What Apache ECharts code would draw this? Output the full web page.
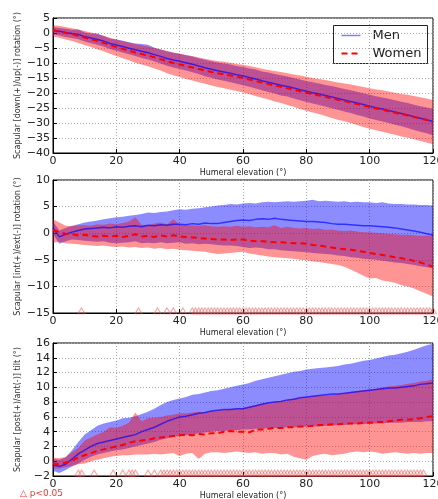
<!DOCTYPE html>
<html>
<head>
<meta charset="utf-8">
<script src="https://cdn.jsdelivr.net/npm/echarts@6/dist/echarts.min.js"></script>
<style>
  html, body { margin: 0; padding: 0; background: #fff; }
  #chart { width: 438px; height: 499px; }
</style>
</head>
<body>
<div id="chart"></div>
<script>
// Humeral elevation (degrees), sampled every 2 degrees
const elev = [0,2,4,6,8,10,12,14,16,18,20,22,24,26,28,30,32,34,36,38,40,42,44,46,48,50,52,54,56,58,
  60,62,64,66,68,70,72,74,76,78,80,82,84,86,88,90,92,94,96,98,100,102,104,106,108,110,112,114,116,118,120];

// Panel 1: scapular downward(+)/upward(-) rotation
const rotMenMean = [1.0,0.6,0.2,-0.2,-0.5,-1.2,-1.7,-2.2,-2.7,-3.5,-4.0,-4.5,-5.1,-5.6,-6.1,-6.6,-7.2,-7.8,-8.5,-9.0,
  -9.4,-9.9,-10.4,-11.0,-11.6,-12.1,-12.6,-13.0,-13.4,-13.9,-14.3,-14.8,-15.3,-15.9,-16.4,-16.9,-17.4,-17.8,-18.3,-18.9,
  -19.4,-19.9,-20.3,-20.8,-21.3,-21.8,-22.3,-22.8,-23.3,-23.8,-24.4,-24.9,-25.3,-25.8,-26.3,-26.8,-27.3,-27.9,-28.4,-28.9,-29.5];
const rotMenHi = [2.0,1.7,1.4,1.1,1.2,0.2,-0.2,-0.2,-1.0,-1.8,-2.2,-2.6,-3.1,-3.5,-3.7,-3.9,-4.9,-5.5,-6.1,-6.6,
  -6.9,-7.4,-7.8,-8.4,-8.9,-9.4,-9.8,-10.2,-10.5,-11.0,-11.3,-11.8,-12.2,-12.8,-13.2,-13.7,-14.1,-14.5,-15.0,-15.5,
  -16.0,-16.4,-16.8,-17.3,-17.7,-18.2,-18.7,-19.1,-19.6,-20.1,-20.6,-21.1,-21.5,-21.9,-22.4,-22.9,-23.3,-23.9,-24.4,-24.8,-25.3];
const rotMenLo = [-0.4,-0.8,-1.3,-1.7,-2.1,-2.8,-3.4,-3.9,-4.5,-5.3,-5.9,-6.5,-7.1,-7.7,-8.3,-8.8,-9.5,-10.2,-10.9,-11.5,
  -12.0,-12.5,-13.1,-13.7,-14.4,-14.9,-15.5,-15.9,-16.4,-16.9,-17.4,-17.9,-18.5,-19.1,-19.7,-20.2,-20.8,-21.2,-21.8,-22.4,
  -23.0,-23.5,-24.0,-24.5,-25.1,-25.6,-26.2,-26.7,-27.3,-27.8,-28.5,-29.0,-29.5,-30.0,-30.6,-31.1,-31.7,-32.3,-32.9,-33.4,-34.1];
const rotWomenMean = [0.8,0.5,0.0,-0.4,-0.9,-1.5,-2.1,-2.7,-3.3,-4.0,-4.7,-5.3,-5.9,-6.5,-7.0,-7.5,-8.1,-8.7,-9.4,-10.0,
  -10.5,-11.0,-11.5,-12.0,-12.5,-13.0,-13.4,-13.8,-14.2,-14.6,-15.0,-15.5,-16.0,-16.5,-17.0,-17.5,-17.9,-18.4,-18.9,-19.4,
  -19.9,-20.4,-20.8,-21.3,-21.8,-22.3,-22.7,-23.2,-23.7,-24.2,-24.7,-25.2,-25.6,-26.1,-26.6,-27.1,-27.5,-28.0,-28.5,-29.0,-29.6];
const rotWomenHi = [2.6,2.4,2.0,1.6,1.2,0.7,0.2,-0.4,-0.9,-1.6,-2.2,-2.7,-3.2,-3.7,-4.1,-4.5,-5.0,-5.5,-6.0,-6.5,
  -6.9,-7.3,-7.7,-8.2,-8.6,-9.0,-9.3,-9.6,-9.9,-10.3,-10.6,-11.0,-11.4,-11.9,-12.3,-12.7,-13.0,-13.4,-13.8,-14.2,
  -14.6,-15.0,-15.3,-15.7,-16.1,-16.5,-16.8,-17.2,-17.6,-18.0,-18.4,-18.8,-19.1,-19.5,-19.9,-20.3,-20.6,-21.0,-21.4,-21.8,-22.3];
const rotWomenLo = [-1.2,-1.6,-2.2,-2.7,-3.3,-4.0,-4.7,-5.4,-6.1,-6.9,-7.7,-8.4,-9.1,-9.9,-10.5,-11.1,-11.8,-12.5,-13.4,-14.1,
  -14.7,-15.3,-15.8,-16.4,-16.9,-17.5,-18.0,-18.4,-18.9,-19.3,-19.8,-20.4,-21.0,-21.6,-22.2,-22.8,-23.3,-24.0,-24.6,-25.3,
  -25.9,-26.5,-27.0,-27.7,-28.3,-28.9,-29.4,-30.0,-30.7,-31.3,-31.9,-32.4,-32.9,-33.4,-33.9,-34.5,-34.9,-35.4,-36.0,-36.5,-37.1];

// Panel 2: scapular internal(+)/external(-) rotation
const intMenMean = [1.0,-0.7,-0.2,0.2,0.5,0.8,0.9,1.0,1.1,1.0,1.2,1.1,1.3,1.4,1.2,1.5,1.4,1.6,1.5,1.7,
  1.7,1.6,1.8,1.7,1.9,1.8,1.8,2.0,2.2,2.4,2.5,2.4,2.6,2.7,2.6,2.8,2.6,2.5,2.4,2.3,
  2.2,2.2,2.1,2.0,1.8,1.7,1.7,1.6,1.5,1.4,1.4,1.3,1.2,1.1,1.0,0.8,0.6,0.4,0.2,-0.1,-0.4];
const intMenHi = [2.2,0.5,1.0,1.4,1.7,2.0,2.2,2.4,2.6,2.8,3.0,3.1,3.3,3.4,3.6,3.9,3.8,4.0,4.1,4.3,
  4.5,4.4,4.6,4.7,4.9,5.0,5.2,5.3,5.5,5.4,5.6,5.7,5.6,5.8,5.9,5.8,5.9,6.0,5.9,6.0,
  6.1,6.3,6.0,6.1,6.0,5.9,6.0,5.8,5.9,5.8,5.8,5.7,5.8,5.6,5.5,5.5,5.4,5.4,5.3,5.3,5.2];
const intMenLo = [-0.2,-2.0,-1.5,-1.2,-1.3,-1.4,-1.5,-1.6,-1.5,-1.8,-1.9,-1.8,-1.7,-1.5,-1.9,-1.8,-1.9,-1.7,-1.9,-1.8,
  -1.7,-2.0,-1.9,-2.1,-2.0,-2.1,-2.2,-2.3,-2.3,-2.4,-2.6,-2.8,-2.7,-2.8,-3.0,-3.0,-3.2,-3.3,-3.4,-3.5,
  -3.6,-3.7,-3.8,-3.9,-4.0,-4.2,-4.3,-4.5,-4.6,-4.8,-4.9,-5.0,-5.2,-5.3,-5.5,-5.6,-5.8,-6.0,-6.2,-6.4,-6.6];
const intWomenMean = [0.6,0.2,-0.1,-0.2,-0.4,-0.3,-0.5,-0.6,-0.5,-0.6,-0.5,-0.7,-0.5,-0.2,-0.6,-0.5,-0.7,-0.4,-0.6,-0.4,
  -0.6,-0.7,-0.8,-0.9,-1.0,-1.1,-1.2,-1.2,-1.3,-1.2,-1.2,-1.4,-1.5,-1.5,-1.6,-1.7,-1.7,-1.8,-1.9,-1.9,
  -2.0,-2.2,-2.3,-2.5,-2.7,-2.9,-3.0,-3.1,-3.3,-3.5,-3.7,-3.9,-4.1,-4.3,-4.5,-4.7,-4.9,-5.2,-5.5,-5.9,-6.3];
const intWomenHi = [2.6,2.0,1.4,1.3,1.5,1.5,1.4,1.7,1.6,1.8,1.7,1.9,2.2,3.0,1.6,1.5,1.8,2.0,1.7,2.6,
  1.6,1.5,1.5,1.4,1.5,1.3,1.2,1.3,1.2,1.4,1.2,1.3,1.1,1.2,1.1,1.5,1.0,1.2,1.0,0.9,
  1.0,0.8,0.9,0.6,0.7,0.5,0.4,0.5,0.3,0.2,0.2,0.1,0.0,-0.1,-0.2,-0.3,-0.3,-0.4,-0.5,-0.5,-0.6];
const intWomenLo = [-1.8,-1.6,-1.9,-2.0,-2.1,-2.2,-2.3,-2.4,-2.3,-2.5,-2.6,-2.5,-2.7,-2.6,-2.8,-2.7,-2.9,-2.8,-3.0,-2.9,
  -3.1,-3.2,-3.3,-3.4,-3.5,-3.7,-3.9,-3.8,-3.7,-3.6,-3.5,-3.8,-4.0,-4.2,-4.4,-4.5,-4.6,-4.7,-4.8,-5.0,
  -5.1,-5.3,-5.4,-5.6,-5.8,-6.0,-6.3,-6.8,-7.4,-8.0,-8.5,-8.4,-8.9,-9.1,-9.3,-9.8,-10.0,-10.4,-10.9,-11.4,-11.9];

// Panel 3: scapular posterior(+)/anterior(-) tilt
const tiltMenMean = [-0.5,-0.7,-0.4,0.3,1.0,1.5,2.0,2.4,2.6,2.8,3.0,3.2,3.4,3.6,4.0,4.3,4.6,5.0,5.4,5.7,
  6.0,6.1,6.3,6.5,6.6,6.8,6.9,7.0,7.0,7.1,7.1,7.3,7.5,7.7,7.9,8.0,8.1,8.3,8.4,8.6,
  8.7,8.8,8.9,9.0,9.1,9.1,9.2,9.3,9.4,9.5,9.6,9.7,9.8,9.9,9.9,10.0,10.1,10.2,10.4,10.5,10.6];
const tiltMenHi = [0.3,0.2,0.5,1.5,2.6,3.6,4.2,4.8,5.1,5.3,5.5,5.8,5.9,6.1,6.4,6.7,7.1,7.6,8.0,8.3,
  8.5,8.7,9.0,9.1,9.3,9.5,9.6,9.8,10.0,10.2,10.4,10.6,10.9,11.1,11.3,11.5,11.7,11.9,12.1,12.2,
  12.4,12.5,12.6,12.7,12.8,12.9,13.1,13.2,13.4,13.6,13.7,13.9,14.1,14.3,14.4,14.6,14.8,15.1,15.4,15.7,15.9];
const tiltMenLo = [-1.3,-1.6,-1.2,-0.7,-0.3,0.2,0.6,0.9,1.1,1.3,1.5,1.6,1.8,2.0,2.2,2.4,2.6,2.9,3.1,3.3,
  3.4,3.5,3.6,3.8,3.9,4.0,4.1,4.1,4.2,4.2,4.3,4.3,4.4,4.4,4.5,4.5,4.5,4.6,4.6,4.6,
  4.7,4.7,4.7,4.8,4.8,4.9,4.9,5.0,5.0,5.0,5.1,5.1,5.1,5.2,5.2,5.2,5.3,5.3,5.3,5.4,5.4];
const tiltWomenMean = [-0.3,-0.4,-0.2,0.1,0.5,0.8,1.1,1.4,1.6,1.8,2.0,2.2,2.5,2.7,2.8,2.9,3.1,3.2,3.3,3.4,
  3.5,3.6,3.5,3.7,3.6,3.8,3.8,4.0,4.1,4.0,4.0,3.9,4.3,4.3,4.4,4.5,4.5,4.6,4.6,4.7,
  4.7,4.8,4.9,4.9,5.0,5.0,5.1,5.1,5.1,5.2,5.2,5.3,5.3,5.4,5.5,5.6,5.6,5.7,5.8,6.0,6.1];
const tiltWomenHi = [0.5,0.4,0.6,1.2,1.8,2.8,3.2,3.6,4.0,4.6,4.5,4.8,5.2,6.6,5.4,5.8,5.9,6.0,6.2,6.3,
  6.5,6.5,6.6,6.7,6.6,6.8,6.9,7.0,7.1,7.1,7.2,7.4,7.6,7.8,7.9,8.0,8.2,8.3,8.5,8.6,
  8.7,8.8,8.9,8.9,9.0,9.1,9.2,9.4,9.5,9.6,9.7,9.8,10.0,10.1,10.2,10.3,10.5,10.6,10.8,10.9,11.1];
const tiltWomenLo = [-1.0,-1.0,-0.8,-0.6,-0.4,-0.3,0.0,0.2,0.4,0.6,0.7,0.8,0.8,0.9,0.9,0.9,1.0,0.9,1.0,1.1,
  0.7,1.0,1.1,0.3,1.0,1.2,1.2,1.1,1.2,1.3,1.2,1.1,1.2,1.0,1.1,1.1,0.9,1.0,0.6,0.4,
  0.2,0.7,0.9,1.0,0.8,0.9,1.0,1.2,1.3,1.2,1.3,1.2,1.0,1.1,1.2,1.1,1.0,1.1,1.0,1.1,1.1];

// Elevations where the men/women difference reaches p<0.05
const sigIntRot = [9,27,33,36,38,41,44,45,46,47,48,49,50,51,52,53,54,55,56,57,58,59,60,61,62,63,64,65,66,67,68,69,70,
  71,72,73,74,75,76,77,78,79,80,81,82,83,84,85,86,87,88,89,90,91,92,93,94,95,96,97,98,99,100,
  101,102,103,104,105,106,107,108,109,110,111,112,113,114,115,116,117,118,119,120];
const sigTilt = [8,9,13,19,22,24,25,26,30,32,34,35,36,37,38,39,40,41,42,43,44,45,46,47,48,49,50,51,52,53,54,55,56,57,58,59,60,
  61,62,63,64,65,66,67,68,69,70,71,72,73,74,75,76,77,78,79,80,81,82,83,84,85,86,87,88,89,90,
  91,92,93,94,95,96,97,98,99,100,101,102,103,104,105,106,107,108,109,110,111,112,113,114,115,116,117];

// y level at which the significance markers sit in panels 2 and 3
const sigLevelIntRot = -14.6;
const sigLevelTilt = -1.6;

const yTitles = [
  'Scapular [down(+)/up(-)] rotation (\u00b0)',
  'Scapular [int(+)/ext(-)] rotation (\u00b0)',
  'Scapular [post(+)/ant(-)] tilt (\u00b0)'
];
const xTitle = 'Humeral elevation (\u00b0)';
const legendNames = ['Men', 'Women'];

const MEN_BAND = 'rgba(0,0,255,0.45)';
const WOMEN_BAND = 'rgba(255,0,0,0.42)';
const FONT = 'DejaVu Sans';

const minus = v => String(v).replace('-', '\u2212');

const grids = [
  { left: 53, top: 18, width: 380, height: 135 },
  { left: 53, top: 180, width: 380, height: 133 },
  { left: 53, top: 343, width: 380, height: 133 }
].map(g => Object.assign(g, {
  show: true, borderColor: '#000', borderWidth: 1, backgroundColor: 'transparent',
  containLabel: false, outerBoundsMode: 'none'
}));

const yRanges = [[-40, 5, 5], [-15, 10, 5], [-2, 16, 2]];

const xAxes = grids.map((g, i) => ({
  type: 'value', gridIndex: i, min: 0, max: 120, interval: 20,
  name: xTitle, nameLocation: 'middle', nameGap: 16, nameMoveOverlap: false,
  nameTextStyle: { fontFamily: FONT, fontSize: 8, color: '#222' },
  axisLine: { show: true, onZero: false, lineStyle: { color: '#000', width: 1 } },
  axisTick: { show: true, inside: true, length: 4, lineStyle: { color: '#000' } },
  axisLabel: { fontFamily: FONT, fontSize: 11, color: '#222', margin: 3, formatter: minus, hideOverlap: false },
  splitLine: { show: true, lineStyle: { color: '#aaa', type: [1, 2], width: 1 } }
}));

const yAxes = grids.map((g, i) => ({
  type: 'value', gridIndex: i, min: yRanges[i][0], max: yRanges[i][1], interval: yRanges[i][2],
  name: yTitles[i], nameLocation: 'middle', nameGap: 31, nameRotate: 90, nameMoveOverlap: false,
  nameTextStyle: { fontFamily: FONT, fontSize: 8, color: '#333' },
  axisLine: { show: true, onZero: false, lineStyle: { color: '#000', width: 1 } },
  axisTick: { show: true, inside: true, length: 4, lineStyle: { color: '#000' } },
  axisLabel: { fontFamily: FONT, fontSize: 11, color: '#222', margin: 3, formatter: minus },
  splitLine: { show: true, lineStyle: { color: '#aaa', type: [1, 2], width: 1 } }
}));

// Shaded band between lo and hi, drawn as one polygon through the axis scales
function band(idx, lo, hi, fill, z) {
  return {
    type: 'custom', xAxisIndex: idx, yAxisIndex: idx, silent: true, clip: true, z: z,
    data: [[elev[0], hi[0]]],
    encode: { x: 0, y: 1 },
    renderItem: function (params, api) {
      const pts = [];
      for (let i = 0; i < elev.length; i++) pts.push(api.coord([elev[i], hi[i]]));
      for (let i = elev.length - 1; i >= 0; i--) pts.push(api.coord([elev[i], lo[i]]));
      return { type: 'polygon', shape: { points: pts }, style: { fill: fill, stroke: null } };
    }
  };
}

function meanLine(idx, name, vals, style, z) {
  return {
    type: 'line', name: name, xAxisIndex: idx, yAxisIndex: idx, z: z,
    data: elev.map((x, i) => [x, vals[i]]),
    symbol: 'none', showSymbol: false, silent: true, animation: false,
    lineStyle: style, itemStyle: { color: style.color }
  };
}

function sigMarks(idx, xs, level) {
  return {
    type: 'scatter', xAxisIndex: idx, yAxisIndex: idx, z: 6, silent: true,
    data: xs.map(x => [x, level]),
    symbol: 'triangle', symbolSize: [7, 6],
    itemStyle: { color: 'rgba(255,255,255,0)', borderColor: 'rgba(255,70,70,0.65)', borderWidth: 1 }
  };
}

const menStyle = { color: 'rgba(0,0,255,0.65)', width: 1.5, type: 'solid' };
const womenStyle = { color: '#ff0000', width: 2, type: [6, 4] };

const panels = [
  [rotMenLo, rotMenHi, rotMenMean, rotWomenLo, rotWomenHi, rotWomenMean],
  [intMenLo, intMenHi, intMenMean, intWomenLo, intWomenHi, intWomenMean],
  [tiltMenLo, tiltMenHi, tiltMenMean, tiltWomenLo, tiltWomenHi, tiltWomenMean]
];

const series = [];
panels.forEach((p, i) => {
  series.push(band(i, p[0], p[1], MEN_BAND, 1));
  series.push(band(i, p[3], p[4], WOMEN_BAND, 2));
  series.push(meanLine(i, legendNames[0], p[2], menStyle, 4));
  series.push(meanLine(i, legendNames[1], p[5], womenStyle, 5));
});
series.push(sigMarks(1, sigIntRot, sigLevelIntRot));
series.push(sigMarks(2, sigTilt, sigLevelTilt));

// Legend box in the upper-right corner of the first panel
const legendGraphic = {
  type: 'group', left: 333, top: 25, z: 100,
  children: [
    { type: 'rect', shape: { x: 0, y: 0, width: 94, height: 38 }, style: { fill: '#fff', stroke: '#222', lineWidth: 1 } },
    { type: 'line', shape: { x1: 8, y1: 10, x2: 27, y2: 10 }, style: { stroke: 'rgba(0,0,255,0.5)', lineWidth: 1.5 } },
    { type: 'text', x: 39, y: 10, style: { text: legendNames[0], fill: '#222', font: '13px "DejaVu Sans"', verticalAlign: 'middle' } },
    { type: 'line', shape: { x1: 8, y1: 28, x2: 27, y2: 28 }, style: { stroke: '#ff0000', lineWidth: 2, lineDash: [6, 4] } },
    { type: 'text', x: 39, y: 28, style: { text: legendNames[1], fill: '#222', font: '13px "DejaVu Sans"', verticalAlign: 'middle' } }
  ]
};

const chart = echarts.init(document.getElementById('chart'), null, { renderer: 'canvas' });
chart.setOption({
  animation: false,
  backgroundColor: '#fff',
  grid: grids,
  xAxis: xAxes,
  yAxis: yAxes,
  graphic: [
    legendGraphic,
    { type: 'text', left: 20, top: 489, style: { text: '\u25b3 p<0.05', fill: '#ff3030', font: '9px "DejaVu Sans"' } }
  ],
  series: series
});
</script>
</body>
</html>
